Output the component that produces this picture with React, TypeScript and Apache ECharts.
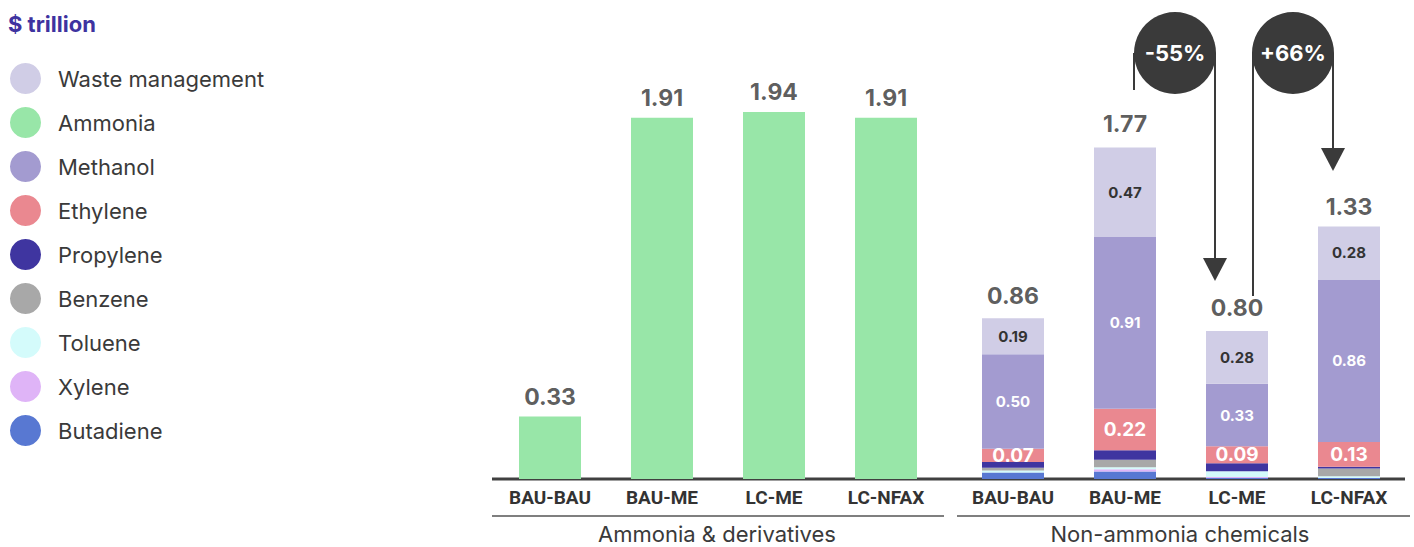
import React, { useEffect, useRef } from "react";
import * as echarts from "echarts";

const categories = ["BAU-BAU", "BAU-ME", "LC-ME", "LC-NFAX"];
const ammonia = [0.33, 1.91, 1.94, 1.91];
const ammoniaTotals = [0.33, 1.91, 1.94, 1.91];

const waste = [0.19, 0.47, 0.28, 0.28];
const methanol = [0.5, 0.91, 0.33, 0.86];
const ethylene = [0.07, 0.22, 0.09, 0.13];
const propylene = [0.03, 0.05, 0.042, 0.01];
const benzene = [0.015, 0.04, 0, 0.04];
const toluene = [0.01, 0.01, 0.03, 0.01];
const xylene = [0, 0.012, 0.006, 0];
const butadiene = [0.035, 0.04, 0.005, 0.005];
const nonAmmoniaTotals = [0.86, 1.77, 0.8, 1.33];

const groupNames = ["Ammonia & derivatives", "Non-ammonia chemicals"];
const changes = ["-55%", "+66%"];

const colors: Record<string, string> = {
  "Waste management": "#d0cde6",
  Ammonia: "#98e6a8",
  Methanol: "#a39bd0",
  Ethylene: "#ea8890",
  Propylene: "#3f35a0",
  Benzene: "#a8a8a8",
  Toluene: "#d4fbfb",
  Xylene: "#dfb4f7",
  Butadiene: "#5878d2",
};
const legendOrder = [
  "Waste management",
  "Ammonia",
  "Methanol",
  "Ethylene",
  "Propylene",
  "Benzene",
  "Toluene",
  "Xylene",
  "Butadiene",
];

const FONT = "Inter, 'Noto Sans', sans-serif";
const NARROW = "Roboto, sans-serif";
const DARK = "#333333";

export default function App() {
  const ref = useRef<HTMLDivElement>(null);
  useEffect(() => {
    if (!ref.current) return;
    const chart = echarts.init(ref.current, undefined, { renderer: "svg" });

    const segLabel = (color: string, size: number) => ({
      show: true,
      position: "inside",
      color,
      fontFamily: FONT,
      fontWeight: "bold",
      fontSize: size,
      formatter: (p: any) => (p.value >= 0.07 ? Number(p.value).toFixed(2) : ""),
    });

    const stackSeries = (name: string, data: number[], label?: any) => ({
      name,
      type: "bar",
      stack: "na",
      xAxisIndex: 1,
      yAxisIndex: 1,
      barWidth: 62,
      data,
      itemStyle: { color: colors[name] },
      label: label || { show: false },
      emphasis: { disabled: true },
    });

    const totalSeries = (data: number[], idx: number) => ({
      type: "scatter",
      xAxisIndex: idx,
      yAxisIndex: idx,
      symbolSize: 1,
      itemStyle: { color: "transparent" },
      data,
      label: {
        show: true,
        position: "top",
        distance: 8,
        color: DARK,
        fontFamily: FONT,
        fontWeight: "bold",
        fontSize: 23,
        formatter: (p: any) => Number(p.value).toFixed(2),
      },
      emphasis: { disabled: true },
    });

    const xAxisCommon = {
      type: "category",
      data: categories,
      axisLine: { show: false },
      axisTick: { show: false },
      axisLabel: {
        interval: 0,
        color: DARK,
        fontFamily: NARROW,
        fontWeight: "bold",
        fontSize: 19,
        margin: 9,
      },
    };
    const yAxisCommon = {
      type: "value",
      min: 0,
      max: 2.4,
      show: false,
      splitLine: { show: false },
    };

    const arrowColor = "#3a3a3a";
    const circle = (cx: number, text: string) => [
      { type: "circle", shape: { cx, cy: 53, r: 41 }, style: { fill: arrowColor } },
      {
        type: "text",
        x: cx,
        y: 53,
        style: {
          text,
          fill: "#fff",
          font: `bold 22px ${FONT}`,
          align: "center",
          verticalAlign: "middle",
        },
      },
    ];

    chart.setOption({
      animation: false,
      title: {
        text: "$ trillion",
        left: 8,
        top: 13,
        padding: 0,
        textStyle: { color: "#3e33a0", fontFamily: FONT, fontWeight: "bold", fontSize: 22 },
      },
      legend: {
        orient: "vertical",
        left: 10,
        top: 63,
        padding: 0,
        icon: "circle",
        itemWidth: 31,
        itemHeight: 31,
        itemGap: 13,
        data: legendOrder,
        selectedMode: false,
        textStyle: { color: "#3a3a3a", fontFamily: FONT, fontSize: 22, padding: [0, 0, 0, 12] },
      },
      grid: [
        { left: 494, width: 448, top: 25, bottom: 68 },
        { left: 957, width: 448, top: 25, bottom: 68 },
      ],
      xAxis: [
        { ...xAxisCommon, gridIndex: 0 },
        { ...xAxisCommon, gridIndex: 1 },
      ],
      yAxis: [
        { ...yAxisCommon, gridIndex: 0 },
        { ...yAxisCommon, gridIndex: 1 },
      ],
      series: [
        {
          name: "Ammonia",
          type: "bar",
          xAxisIndex: 0,
          yAxisIndex: 0,
          barWidth: 62,
          data: ammonia,
          itemStyle: { color: colors["Ammonia"] },
          emphasis: { disabled: true },
        },
        totalSeries(ammoniaTotals, 0),
        stackSeries("Butadiene", butadiene),
        stackSeries("Xylene", xylene),
        stackSeries("Toluene", toluene),
        stackSeries("Benzene", benzene),
        stackSeries("Propylene", propylene),
        stackSeries("Ethylene", ethylene, segLabel("#fff", 19)),
        stackSeries("Methanol", methanol, segLabel("#fff", 15)),
        stackSeries("Waste management", waste, segLabel(DARK, 15)),
        totalSeries(nonAmmoniaTotals, 1),
      ],
      graphic: [
        {
          type: "line",
          shape: { x1: 492, y1: 479, x2: 1405, y2: 479 },
          style: { stroke: "#404040", lineWidth: 3 },
        },
        {
          type: "line",
          shape: { x1: 492, y1: 516, x2: 944, y2: 516 },
          style: { stroke: "#555", lineWidth: 1.5 },
        },
        {
          type: "line",
          shape: { x1: 957, y1: 516, x2: 1410, y2: 516 },
          style: { stroke: "#555", lineWidth: 1.5 },
        },
        {
          type: "text",
          x: 717,
          y: 534,
          style: { text: groupNames[0], fill: "#3a3a3a", font: `22px ${FONT}`, align: "center", verticalAlign: "middle" },
        },
        {
          type: "text",
          x: 1180,
          y: 534,
          style: { text: groupNames[1], fill: "#3a3a3a", font: `22px ${FONT}`, align: "center", verticalAlign: "middle" },
        },
        // -55% annotation
        { type: "line", shape: { x1: 1134, y1: 53, x2: 1134, y2: 90 }, style: { stroke: arrowColor, lineWidth: 2 } },
        { type: "line", shape: { x1: 1215, y1: 53, x2: 1215, y2: 260 }, style: { stroke: arrowColor, lineWidth: 2 } },
        { type: "polygon", shape: { points: [[1203, 258], [1227, 258], [1215, 281]] }, style: { fill: arrowColor } },
        ...circle(1175, changes[0]),
        // +66% annotation
        { type: "line", shape: { x1: 1253, y1: 53, x2: 1253, y2: 296 }, style: { stroke: arrowColor, lineWidth: 2 } },
        { type: "line", shape: { x1: 1333, y1: 53, x2: 1333, y2: 150 }, style: { stroke: arrowColor, lineWidth: 2 } },
        { type: "polygon", shape: { points: [[1321, 148], [1345, 148], [1333, 171]] }, style: { fill: arrowColor } },
        ...circle(1293, changes[1]),
      ],
    });
    return () => chart.dispose();
  }, []);
  return <div ref={ref} style={{ width: 1414, height: 547, position: "absolute", left: 0, top: 0 }} />;
}
